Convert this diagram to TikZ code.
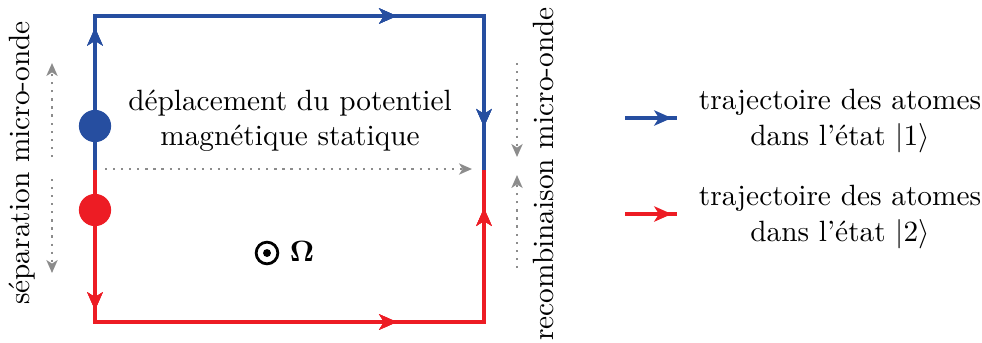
\documentclass[tikz,border=0pt]{standalone}
\usepackage{amsmath,bm}
\usetikzlibrary{arrows.meta,decorations.markings}
\definecolor{bleu}{RGB}{38,78,160}
\definecolor{rouge}{RGB}{237,28,36}
\definecolor{gris}{RGB}{140,140,140}
\tikzset{
    traj/.style={line width=1.4pt},
    flecheat/.style={postaction={decorate},decoration={markings,
        mark=at position #1 with {\arrow{Stealth[length=6pt,width=5.2pt,inset=1.6pt]}}}},
    guide/.style={gris,dotted,line width=0.75pt,-{Stealth[length=4.4pt,width=3.8pt,inset=1.2pt]}},
    atome/.style={shape=circle,inner sep=0pt,minimum size=11pt},
    legende/.style={align=center,font=\normalsize},
    rotation/.style={draw,shape=circle,line width=0.95pt,inner sep=0pt,minimum size=7.4pt,
        path picture={\fill (path picture bounding box.center) circle (1.35pt);}}
}
\begin{document}
\begin{tikzpicture}[x=0.341pt,y=-0.341pt]
    \useasboundingbox (0,0) rectangle (982,342);
    % coins du parcours
    \coordinate (HG) at (95,16);
    \coordinate (HD) at (484,16);
    \coordinate (BG) at (95,322);
    \coordinate (BD) at (484,322);
    \coordinate (MG) at (95,170);
    \coordinate (MD) at (484,170);
    % etat 1
    \draw[traj,bleu,flecheat=0.204,flecheat=0.654,flecheat=0.938] (MG) -- (HG) -- (HD) -- (MD);
    % etat 2
    \draw[traj,rouge,flecheat=0.202,flecheat=0.655,flecheat=0.945] (MG) -- (BG) -- (BD) -- (MD);
    \node[atome,fill=bleu] (A1) at (95,126) {};
    \node[atome,fill=rouge] (A2) at (95,210) {};
    % pointilles
    \coordinate (S1) at (52,157);
    \coordinate (S2) at (52,63);
    \coordinate (S3) at (52,179);
    \coordinate (S4) at (52,273);
    \coordinate (D1) at (105,169);
    \coordinate (D2) at (472,169);
    \coordinate (R1) at (517,63);
    \coordinate (R2) at (517,157);
    \coordinate (R3) at (517,268);
    \coordinate (R4) at (517,175);
    \draw[guide] (S1) -- (S2);
    \draw[guide] (S3) -- (S4);
    \draw[guide] (D1) -- (D2);
    \draw[guide] (R1) -- (R2);
    \draw[guide] (R3) -- (R4);
    % textes
    \node[rotate=90] (sep) at (22,163) {séparation micro-onde};
    \node[rotate=90] (rec) at (543,174) {recombinaison micro-onde};
    \node[legende] (dep) at (290,121) {déplacement du potentiel\\magnétique statique};
    \node[rotation] (rot) at (267,253) {};
    \node (omega) at (302,251) {$\bm{\Omega}$};
    % legende
    \coordinate (L1a) at (625,118);
    \coordinate (L1b) at (677,118);
    \coordinate (L2a) at (625,214);
    \coordinate (L2b) at (677,214);
    \draw[traj,bleu,flecheat=0.9] (L1a) -- (L1b);
    \draw[traj,rouge,flecheat=0.9] (L2a) -- (L2b);
    \node[legende] (leg1) at (840,121) {trajectoire des atomes\\dans l'état\ $|1\rangle$};
    \node[legende] (leg2) at (840,217) {trajectoire des atomes\\dans l'état\ $|2\rangle$};
\end{tikzpicture}
\end{document}
